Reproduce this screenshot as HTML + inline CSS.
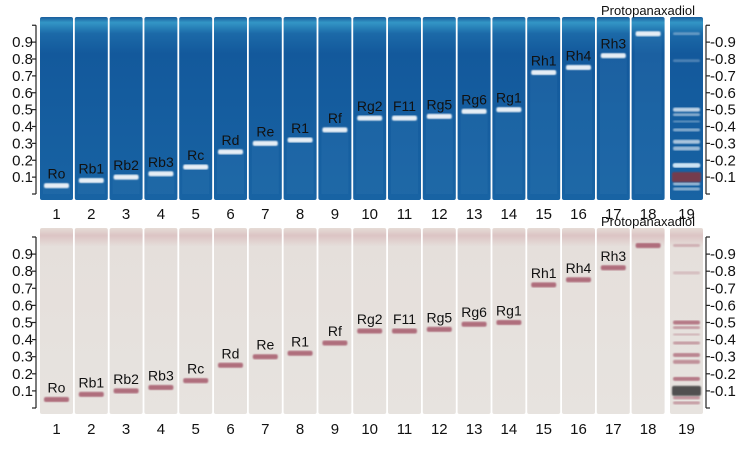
<!DOCTYPE html>
<html><head><meta charset="utf-8"><style>
html,body{margin:0;padding:0;background:#fff;}
svg{display:block;font-family:"Liberation Sans",sans-serif;}
</style></head><body>
<svg id="s" width="736" height="450" viewBox="0 0 736 450" xmlns="http://www.w3.org/2000/svg">
<defs>
<linearGradient id="gb" x1="0" y1="0" x2="0" y2="1">
<stop offset="0" stop-color="#1a5d9c"/><stop offset="0.03" stop-color="#3396c6"/><stop offset="0.09" stop-color="#1c6aa8"/><stop offset="0.2" stop-color="#13599c"/><stop offset="1" stop-color="#1863a3"/>
</linearGradient>
<linearGradient id="gw" x1="0" y1="0" x2="0" y2="1">
<stop offset="0" stop-color="#e6dcd6"/><stop offset="0.04" stop-color="#dcc4c4"/><stop offset="0.1" stop-color="#e5dfdb"/><stop offset="1" stop-color="#e7e3df"/>
</linearGradient>
<filter id="bl"><feGaussianBlur stdDeviation="0.7"/></filter>
</defs>
<g id="g"></g>
</svg>
<script>
var g=document.getElementById('g'),h='';
function R(x,y,w,hh,f,o,b){h+='<rect x="'+x+'" y="'+y+'" width="'+w+'" height="'+hh+'" rx="2" fill="'+f+'" opacity="'+(o||1)+'"'+(b?' filter="url(#bl)"':'')+'/>';}
function T(x,y,t,s,a){h+='<text x="'+x+'" y="'+y+'" font-size="'+s+'" text-anchor="'+(a||'middle')+'" fill="#111">'+t+'</text>';}
var names=['Ro','Rb1','Rb2','Rb3','Rc','Rd','Re','R1','Rf','Rg2','F11','Rg5','Rg6','Rg1','Rh1','Rh4','Rh3',''];
var rf=[0.05,0.08,0.10,0.12,0.16,0.25,0.30,0.32,0.38,0.45,0.45,0.46,0.49,0.50,0.72,0.75,0.82,0.95];
function lx(i){return i<18?40+i*34.8:670;}
function panel(top,bot,y0,sc,bg,band,bandOp,numY,dark){
 for(var i=0;i<19;i++){var x=lx(i);R(x,top,33,bot-top,bg);}
 for(var i=0;i<18;i++){var x=lx(i),y=y0-rf[i]*sc;
  if(dark){h+='<rect x="'+(x+3)+'" y="'+y+'" width="27" height="'+(y0-y)+'" fill="#4a8ac0" opacity="0.15"/>';}
  R(x+4,y-2.5,25,5,band,bandOp,true);
  if(names[i])T(x+16.5,y-7,names[i],14);
 }
 var L=[[0.95,3,0.4],[0.79,3,0.3],[0.50,4,0.9],[0.47,3,0.6],[0.43,2,0.4],[0.38,3,0.6],[0.31,4,0.8],[0.27,4,0.7],[0.17,4,0.9],[0.06,3,0.7],[0.03,3,0.6]];
 for(var k=0;k<L.length;k++){R(673,y0-L[k][0]*sc-L[k][1]/2,27,L[k][1],band,L[k][2]*0.85,true);}
 R(672,y0-0.10*sc-5,29,10,dark?'#7a3a48':'#4a4a4a',0.95,true);
 if(dark){R(673,y0-0.17*sc-2,27,4,'#cfe6f6',0.9,true);}
 [[36,-1],[706,1]].forEach(function(a){var ax=a[0];
  h+='<line x1="'+ax+'" y1="'+(y0-sc)+'" x2="'+ax+'" y2="'+y0+'" stroke="#222" stroke-width="1.2"/>';
  for(var t=0;t<=10;t++){var yy=y0-t/10*sc;h+='<line x1="'+ax+'" y1="'+yy+'" x2="'+(ax+a[1]*4)+'" y2="'+yy+'" stroke="#222" stroke-width="1.2"/>';
   if(t>0&&t<10){if(a[1]<0)T(33,yy+5,'0.'+t,15,'end');else T(710,yy+5,'-0.'+t,15,'start');}}
 });
 for(var i=0;i<19;i++)T(lx(i)+16.5,numY,i+1,15);
 T(648,top-2,'Protopanaxadiol',13);
}
panel(17,200,194,168.75,'url(#gb)','#f2f6fa',0.95,219,true);
panel(228,414,408,171,'url(#gw)','#a65a6c',0.85,434,false);
g.innerHTML=h;
</script>
</body></html>
